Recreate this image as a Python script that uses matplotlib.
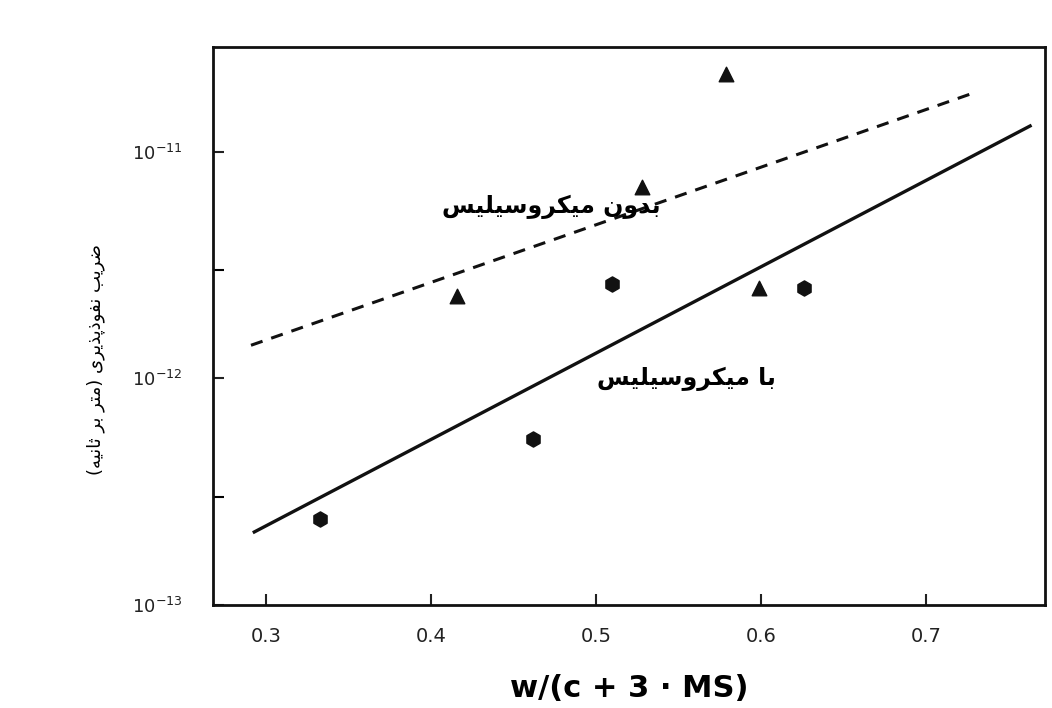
import numpy as np
import matplotlib
matplotlib.use('Agg')
import matplotlib.pyplot as plt
from matplotlib.ticker import FixedLocator, NullFormatter, LogFormatterSciNotation

# --- data ---
tri_x = [0.579, 0.528, 0.416, 0.599]          # بدون میکروسیلیس
tri_y = [2.2e-11, 7.0e-12, 2.3e-12, 2.5e-12]
dot_x = [0.510, 0.626, 0.462, 0.333]          # با میکروسیلیس
dot_y = [2.6e-12, 2.5e-12, 5.4e-13, 2.4e-13]
dash_x = [0.291, 0.727]
dash_y = [1.4e-12, 1.8e-11]
solid_x = [0.293, 0.763]
solid_y = [2.1e-13, 1.3e-11]
x_ticks = [0.3, 0.4, 0.5, 0.6, 0.7]
x_ticklabels = ['0.3', '0.4', '0.5', '0.6', '0.7']
y_ticks = [1e-13, 1e-12, 1e-11]
y_minor = [3e-13, 3e-12]

lbl_without = 'بدون میکروسیلیس'
lbl_with = 'با میکروسیلیس'
ylab = 'ضریب نفوذپذیری (متر بر ثانیه)'

# minimal persian shaping (matplotlib has no bidi/shaping)
FORMS = {
    'ا': (0xFE8D, 0xFE8E, None, None), 'د': (0xFEA9, 0xFEAA, None, None),
    'ذ': (0xFEAB, 0xFEAC, None, None), 'ر': (0xFEAD, 0xFEAE, None, None),
    'ز': (0xFEAF, 0xFEB0, None, None), 'و': (0xFEED, 0xFEEE, None, None),
    'ب': (0xFE8F, 0xFE90, 0xFE91, 0xFE92), 'ت': (0xFE95, 0xFE96, 0xFE97, 0xFE98),
    'ث': (0xFE99, 0xFE9A, 0xFE9B, 0xFE9C), 'س': (0xFEB1, 0xFEB2, 0xFEB3, 0xFEB4),
    'ض': (0xFEBD, 0xFEBE, 0xFEBF, 0xFEC0), 'ف': (0xFED1, 0xFED2, 0xFED3, 0xFED4),
    'ل': (0xFEDD, 0xFEDE, 0xFEDF, 0xFEE0), 'م': (0xFEE1, 0xFEE2, 0xFEE3, 0xFEE4),
    'ن': (0xFEE5, 0xFEE6, 0xFEE7, 0xFEE8), 'ه': (0xFEE9, 0xFEEA, 0xFEEB, 0xFEEC),
    'ی': (0xFEEF, 0xFEF0, 0xFEF3, 0xFEF4), 'پ': (0xFB56, 0xFB57, 0xFB58, 0xFB59),
    'ک': (0xFB8E, 0xFB8F, 0xFB90, 0xFB91),
}


def shape(s):
    out = []
    for i, c in enumerate(s):
        if c not in FORMS:
            out.append({'(': ')', ')': '('}.get(c, c))
            continue
        f = FORMS[c]
        p = s[i - 1] if i > 0 else ''
        n = s[i + 1] if i + 1 < len(s) else ''
        jp = p in FORMS and FORMS[p][2] is not None
        jn = f[2] is not None and n in FORMS
        if jp and jn:
            k = f[3]
        elif jp:
            k = f[1]
        elif jn:
            k = f[2]
        else:
            k = f[0]
        out.append(chr(k))
    return ''.join(out[::-1])


plt.rcParams['font.family'] = ['DejaVu Sans']

fig = plt.figure(figsize=(10.52, 7.08), dpi=100)
ax = fig.add_axes([0.2025, 0.1455, 0.7908, 0.7881])
ax.set_yscale('log')

ax.plot(dash_x, dash_y, color='#111111', lw=2.2, ls=(0, (4, 3)))
ax.plot(solid_x, solid_y, color='#111111', lw=2.4)
ax.scatter(tri_x, tri_y, marker='^', s=110, color='#111111', zorder=4)
ax.scatter(dot_x, dot_y, marker='h', s=120, color='#111111', zorder=4)

ax.text(0.539, 5.7e-12, shape(lbl_without), ha='right', va='center',
        fontsize=17, fontweight='bold')
ax.text(0.609, 1.0e-12, shape(lbl_with), ha='right', va='center',
        fontsize=17, fontweight='bold')

ax.set_xlim(0.268, 0.772)
ax.set_ylim(1e-13, 2.9e-11)
ax.set_xticks(x_ticks)
ax.set_xticklabels(x_ticklabels)
ax.yaxis.set_major_locator(FixedLocator(y_ticks))
ax.yaxis.set_major_formatter(LogFormatterSciNotation())
ax.yaxis.set_minor_locator(FixedLocator(y_minor))
ax.yaxis.set_minor_formatter(NullFormatter())

ax.tick_params(axis='x', which='major', direction='in', length=8, width=1.5,
               labelsize=14, pad=16, colors='#222222')
ax.tick_params(axis='y', which='major', direction='in', length=8, width=1.5,
               labelsize=13, pad=22, colors='#222222')
ax.tick_params(axis='y', which='minor', direction='in', length=8, width=1.5)
for sp in ax.spines.values():
    sp.set_linewidth(2)
    sp.set_color('#111111')

ax.set_xlabel('w/(c + 3 · MS)', fontsize=22, fontweight='bold', labelpad=20)
ax.set_ylabel(shape(ylab), fontsize=13)
ax.yaxis.set_label_coords(-0.13, 0.44)

plt.savefig('out.png', dpi=100)
